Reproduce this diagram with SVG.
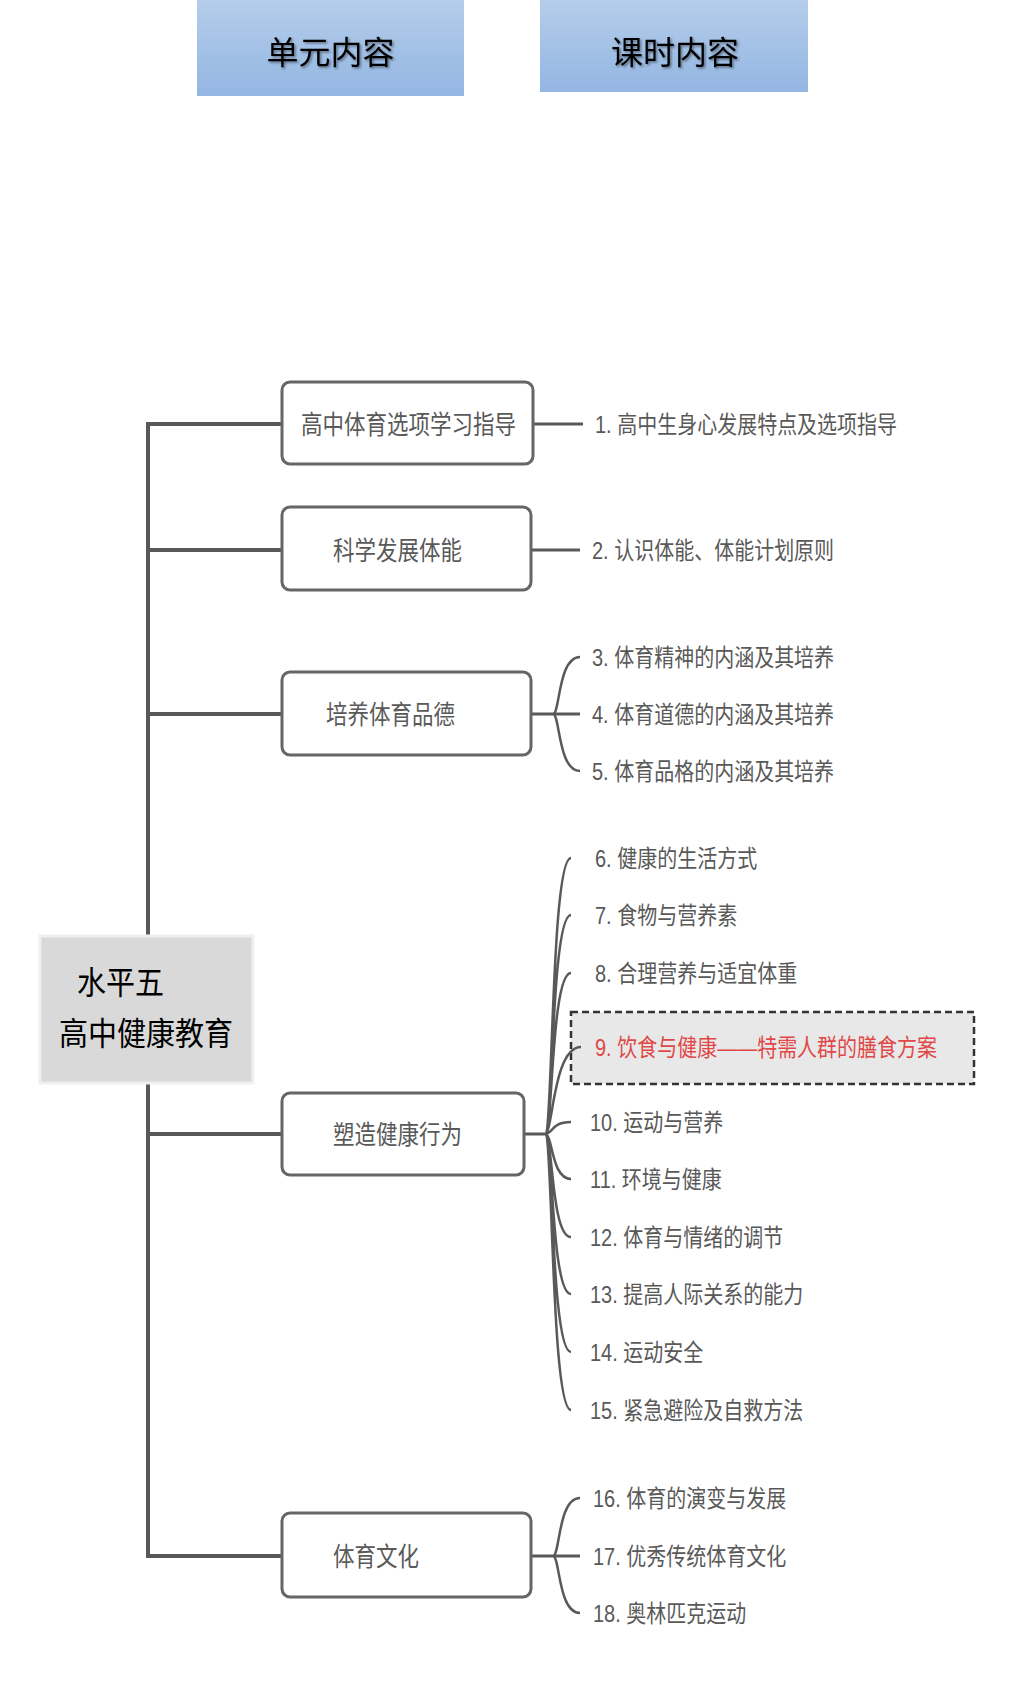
<svg xmlns="http://www.w3.org/2000/svg" width="1017" height="1687" viewBox="0 0 1017 1687">
<defs>
<linearGradient id="hdr" x1="0" y1="0" x2="0" y2="1">
<stop offset="0" stop-color="#b5cdea"/>
<stop offset="1" stop-color="#93b6e2"/>
</linearGradient>
<filter id="sh" x="-10%" y="-20%" width="130%" height="150%">
<feDropShadow dx="1.5" dy="1.5" stdDeviation="1.2" flood-color="#000" flood-opacity="0.45"/>
</filter>
<style>
.t{font-family:'Liberation Sans','Noto Sans CJK SC',sans-serif;}
.hd{font-size:32px;fill:#000;}
.box{fill:#fff;stroke:#666;stroke-width:3;}
.bt{font-size:21.5px;fill:#595959;}
.it{font-size:20px;fill:#595959;}
.red{fill:#e04848;}
.ct{font-size:29px;fill:#000;}
.ln{stroke:#595959;fill:none;}
.trunk{stroke-width:4;}
.br{stroke-width:3;}
.cv{stroke-width:2.5;}
</style>
</defs>
<rect width="1017" height="1687" fill="#fff"/>

<g id="header-unit">
<rect x="197" y="0" width="267" height="96" fill="url(#hdr)"/>
<text class="t hd" x="330.5" y="64" text-anchor="middle" filter="url(#sh)">单元内容</text>
</g>
<g id="header-lesson">
<rect x="540" y="0" width="268" height="92" fill="url(#hdr)"/>
<text class="t hd" x="675" y="64" text-anchor="middle" filter="url(#sh)">课时内容</text>
</g>

<g id="item9-frame">
<rect x="571" y="1012" width="403" height="72" fill="#e8e8e8" stroke="#333" stroke-width="2.5" stroke-dasharray="7 4"/>
</g>

<g id="connectors">
<path class="ln trunk" d="M282,424 H148 V1556 H282"/>
<path class="ln trunk" d="M148,550 H282 M148,714 H282 M148,1134 H282"/>
<path class="ln br" d="M533,424 H583 M531,550 H580 M531,714 H580 M524,1134 H545 M531,1556 H580"/>
<path class="ln cv" d="M553,714 C560,714 558,657 580,657 M553,714 C560,714 558,771 580,771"/>
<path class="ln cv" d="M545,1134 C553,1134 551,858 571,858
M545,1134 C553,1134 551,915 571,915
M545,1134 C553,1134 551,973 571,973
M545,1134 C553,1134 553,1047 581,1047
M545,1134 C553,1134 551,1122 571,1122
M545,1134 C553,1134 551,1179 571,1179
M545,1134 C553,1134 551,1237 571,1237
M545,1134 C553,1134 551,1294 571,1294
M545,1134 C553,1134 551,1352 571,1352
M545,1134 C553,1134 551,1410 571,1410"/>
<path class="ln cv" d="M553,1556 C560,1556 558,1498 580,1498 M553,1556 C560,1556 558,1613 580,1613"/>
</g>

<g id="root">
<rect x="40" y="936" width="213" height="147" fill="#d9d9d9" stroke="#efefef" stroke-width="3"/>
<text class="t ct" transform="translate(77,994) scale(1,1.1)">水平五</text>
<text class="t ct" transform="translate(59,1045) scale(1,1.1)">高中健康教育</text>
</g>

<g id="unit1">
<rect class="box" x="282" y="382" width="251" height="82" rx="8"/>
<text class="t bt" transform="translate(301,434) scale(1,1.2)">高中体育选项学习指导</text>
</g>
<g id="unit2">
<rect class="box" x="282" y="507" width="249" height="83" rx="8"/>
<text class="t bt" transform="translate(333,560) scale(1,1.2)">科学发展体能</text>
</g>
<g id="unit3">
<rect class="box" x="282" y="672" width="249" height="83" rx="8"/>
<text class="t bt" transform="translate(326,724) scale(1,1.2)">培养体育品德</text>
</g>
<g id="unit4">
<rect class="box" x="282" y="1093" width="242" height="82" rx="8"/>
<text class="t bt" transform="translate(333,1144) scale(1,1.2)">塑造健康行为</text>
</g>
<g id="unit5">
<rect class="box" x="282" y="1513" width="249" height="84" rx="8"/>
<text class="t bt" transform="translate(333,1566) scale(1,1.2)">体育文化</text>
</g>

<g id="item1"><text class="t it" transform="translate(595,433) scale(1,1.2)">1. 高中生身心发展特点及选项指导</text></g>
<g id="item2"><text class="t it" transform="translate(592,559) scale(1,1.2)">2. 认识体能、体能计划原则</text></g>
<g id="item3"><text class="t it" transform="translate(592,666) scale(1,1.2)">3. 体育精神的内涵及其培养</text></g>
<g id="item4"><text class="t it" transform="translate(592,723) scale(1,1.2)">4. 体育道德的内涵及其培养</text></g>
<g id="item5"><text class="t it" transform="translate(592,780) scale(1,1.2)">5. 体育品格的内涵及其培养</text></g>
<g id="item6"><text class="t it" transform="translate(595,867) scale(1,1.2)">6. 健康的生活方式</text></g>
<g id="item7"><text class="t it" transform="translate(595,924) scale(1,1.2)">7. 食物与营养素</text></g>
<g id="item8"><text class="t it" transform="translate(595,982) scale(1,1.2)">8. 合理营养与适宜体重</text></g>
<g id="item9"><text class="t it red" transform="translate(595,1056) scale(1,1.2)">9. 饮食与健康——特需人群的膳食方案</text></g>
<g id="item10"><text class="t it" transform="translate(590,1131) scale(1,1.2)">10. 运动与营养</text></g>
<g id="item11"><text class="t it" transform="translate(590,1188) scale(1,1.2)">11. 环境与健康</text></g>
<g id="item12"><text class="t it" transform="translate(590,1246) scale(1,1.2)">12. 体育与情绪的调节</text></g>
<g id="item13"><text class="t it" transform="translate(590,1303) scale(1,1.2)">13. 提高人际关系的能力</text></g>
<g id="item14"><text class="t it" transform="translate(590,1361) scale(1,1.2)">14. 运动安全</text></g>
<g id="item15"><text class="t it" transform="translate(590,1419) scale(1,1.2)">15. 紧急避险及自救方法</text></g>
<g id="item16"><text class="t it" transform="translate(593,1507) scale(1,1.2)">16. 体育的演变与发展</text></g>
<g id="item17"><text class="t it" transform="translate(593,1565) scale(1,1.2)">17. 优秀传统体育文化</text></g>
<g id="item18"><text class="t it" transform="translate(593,1622) scale(1,1.2)">18. 奥林匹克运动</text></g>
</svg>
